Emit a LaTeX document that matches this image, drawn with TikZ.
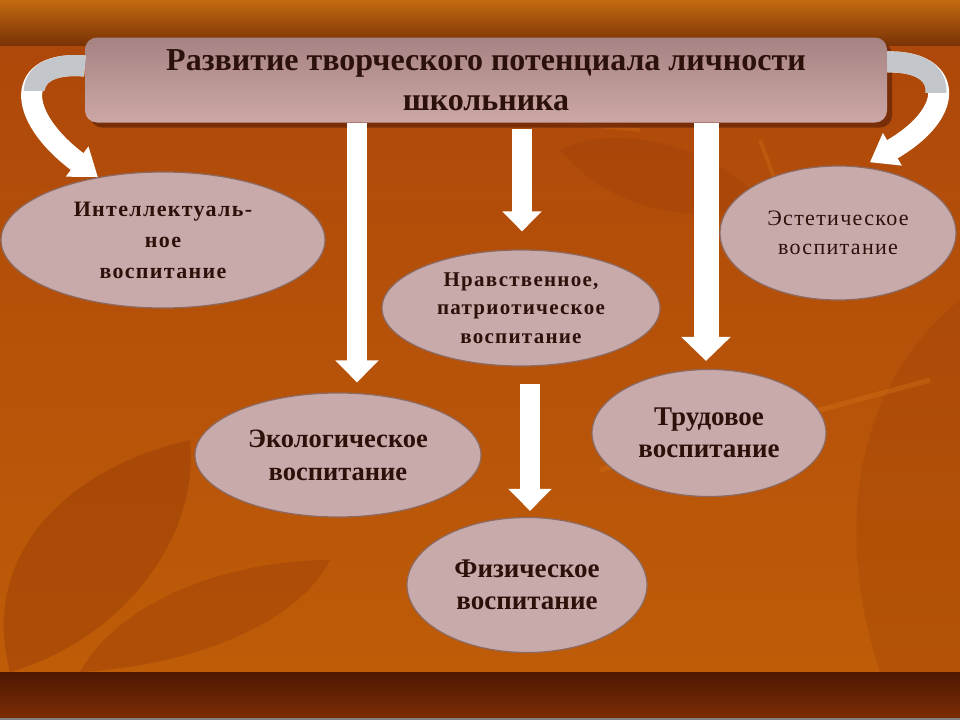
\documentclass[tikz,border=0pt]{standalone}
\usepackage{fontspec}
\setmainfont{Liberation Serif}
\newfontfamily\widefont[LetterSpace=6]{Liberation Serif}
\usetikzlibrary{shapes.geometric,arrows.meta,shadows}
\definecolor{bgtop}{HTML}{C26A10}
\definecolor{bgband}{HTML}{7A3306}
\definecolor{bgmid}{HTML}{AE480A}
\definecolor{bglow}{HTML}{BE5C08}
\definecolor{footA}{HTML}{4E1802}
\definecolor{footB}{HTML}{7C2C03}
\definecolor{boxtop}{HTML}{A68383}
\definecolor{boxbot}{HTML}{CCA7A5}
\definecolor{boxshade}{HTML}{6B2808}
\definecolor{ovalfill}{HTML}{C9AAAA}
\definecolor{ovalline}{HTML}{8C6A62}
\definecolor{ink}{HTML}{2B1109}
\definecolor{ribbon}{HTML}{C3C7CB}
\definecolor{leafdark}{HTML}{8E3306}
\definecolor{leaflight}{HTML}{D8781A}
\begin{document}
\begin{tikzpicture}[x=1pt,y=-1pt,
 oval/.style={ellipse, draw=ovalline, line width=1.2pt, fill=ovalfill, inner sep=0pt, align=center, text=ink},
 bigarrow/.style={white, line width=20pt, -{Triangle[width=42pt,length=22pt]}},
 ribbonarrow/.style={white, line width=21pt, -{Triangle[width=36pt,length=26pt]}}]
\useasboundingbox (0,0) rectangle (960,720);
\shade[top color=bgmid, bottom color=bglow] (0,45) rectangle (960,672);
\fill[leafdark, opacity=.35] (10,672) .. controls (-20,560) and (60,470) .. (190,440)
 .. controls (200,540) and (120,640) .. (10,672) -- cycle;
\fill[leafdark, opacity=.3] (80,672) .. controls (120,600) and (230,560) .. (330,560)
 .. controls (300,620) and (200,665) .. (80,672) -- cycle;
\fill[leafdark, opacity=.2] (960,300) .. controls (860,380) and (830,520) .. (880,672) -- (960,672) -- cycle;
\fill[leafdark, opacity=.18] (560,150) .. controls (620,120) and (720,150) .. (760,200)
 .. controls (700,230) and (610,210) .. (560,150) -- cycle;
\draw[leaflight, line width=5pt, opacity=.35] (600,470) -- (930,380);
\draw[leaflight, line width=4pt, opacity=.3] (330,100) -- (640,130);
\draw[leaflight, line width=4pt, opacity=.3] (760,140) -- (820,300);
\shade[top color=bgtop, bottom color=bgband] (0,0) rectangle (960,45);
\shade[top color=footA, bottom color=footB] (0,672) rectangle (960,718);
\fill[gray] (0,718) rectangle (960,720);

\node[rounded corners=12pt, top color=boxtop, bottom color=boxbot, minimum width=802pt, minimum height=85pt,
 drop shadow={shadow xshift=5pt, shadow yshift=-5pt, fill=boxshade, opacity=.8},
 align=center, text=ink, font=\fontsize{32}{40}\selectfont\bfseries] (title) at (486,80)
 {Развитие творческого потенциала личности\\школьника};

\node[oval, minimum width=324pt, minimum height=136pt, font=\widefont\fontsize{22}{31}\selectfont\bfseries]
 (intel) at (163,240) {Интеллектуаль-\\ное\\воспитание};
\node[oval, minimum width=236pt, minimum height=134pt, font=\widefont\fontsize{22}{29}\selectfont]
 (aesth) at (838,233) {Эстетическое\\воспитание};
\node[oval, minimum width=278pt, minimum height=116pt, font=\widefont\fontsize{21}{28.5}\selectfont\bfseries]
 (moral) at (521,308) {Нравственное,\\патриотическое\\воспитание};
\node[oval, minimum width=286pt, minimum height=124pt, font=\fontsize{26.5}{33}\selectfont\bfseries]
 (eco) at (338,455) {Экологическое\\воспитание};
\node[oval, minimum width=234pt, minimum height=127pt, font=\fontsize{27}{32}\selectfont\bfseries]
 (labor) at (709,433) {Трудовое\\воспитание};
\node[oval, minimum width=240pt, minimum height=135pt, font=\fontsize{27}{32}\selectfont\bfseries]
 (phys) at (527,585) {Физическое\\воспитание};

\coordinate (xa) at (357,0);
\coordinate (xb) at (522,0);
\coordinate (xc) at (706,0);
\coordinate (xd) at (530,0);
\draw[bigarrow, shorten >=10pt] (title.south -| xa) -- (eco.north -| xa);
\draw[bigarrow, -{Triangle[width=38pt,length=20pt]}, shorten <=6pt, shorten >=18pt] (title.south -| xb) -- (moral.north -| xb);
\draw[bigarrow, line width=25pt, -{Triangle[width=48pt,length=24pt]}, shorten >=8pt] (title.south -| xc) -- (labor.north -| xc);
\draw[bigarrow, shorten <=17pt, shorten >=6pt] (moral.south -| xd) -- (phys.north -| xd);

\draw[ribbonarrow] ([yshift=14pt]title.west) .. controls (15,60) and (15,115) .. (intel.136);
\begin{scope}
\clip (0,40) rectangle (85,90);
\draw[ribbon, line width=21pt] ([yshift=14pt]title.west) .. controls (15,60) and (15,115) .. (intel.136);
\end{scope}
\draw[ribbonarrow, shorten >=9pt] ([yshift=18pt]title.east) .. controls (950,60) and (960,110) .. (aesth.70);
\begin{scope}
\clip (887,40) rectangle (960,92);
\draw[ribbon, line width=21pt, shorten >=9pt] ([yshift=18pt]title.east) .. controls (950,60) and (960,110) .. (aesth.70);
\end{scope}
\end{tikzpicture}
\end{document}
